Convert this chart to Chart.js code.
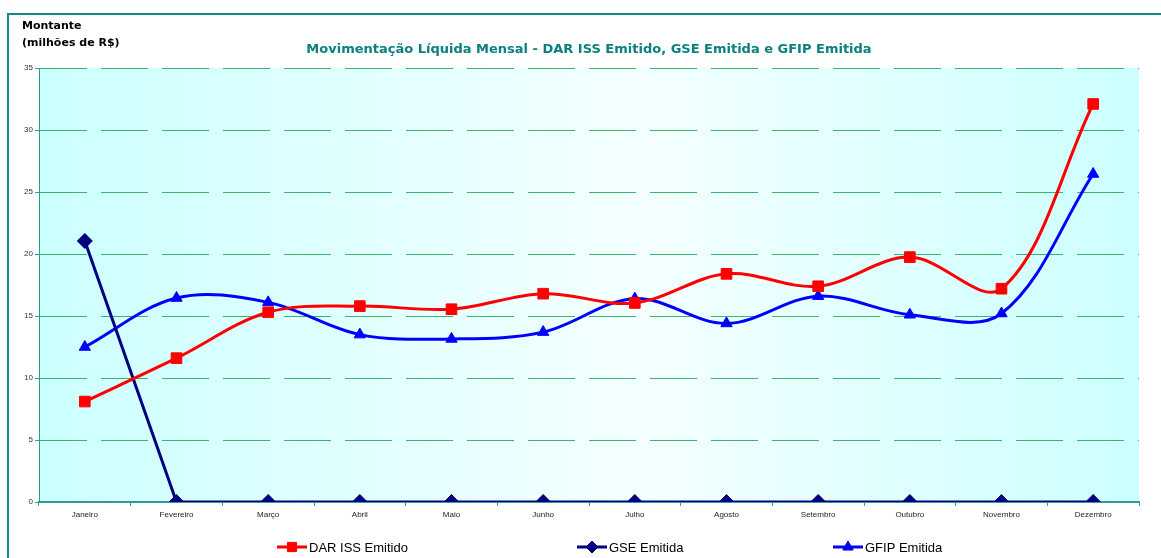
<!DOCTYPE html>
<html>
<head>
<meta charset="utf-8">
<script src="https://cdn.jsdelivr.net/npm/chart.js@4.4.0/dist/chart.umd.min.js"></script>
<style>
html, body { margin: 0; padding: 0; background: #fff; }
#wrap { position: relative; width: 1161px; height: 558px; overflow: hidden; }
#frame { position: absolute; left: 7px; top: 13px; width: 1300px; height: 700px;
  border-left: 2px solid #168a86; border-top: 2px solid #168a86; }
#ytitle { position: absolute; left: 22px; top: 17px; font: bold 11px "DejaVu Sans";
  line-height: 17px; color: #000; }
canvas { position: absolute; left: 0; top: 0; }
</style>
</head>
<body>
<div id="wrap">
  <div id="frame"></div>
  <canvas id="chart" width="1161" height="558"></canvas>
  <div id="ytitle">Montante<br>(milhões de R$)</div>
</div>
<script>
// valores (milhões de R$)
const months = ['Janeiro', 'Fevereiro', 'Março', 'Abril', 'Maio', 'Junho',
  'Julho', 'Agosto', 'Setembro', 'Outubro', 'Novembro', 'Dezembro']
const darIss = [8.1, 11.6, 15.3, 15.8, 15.55, 16.8, 16.05, 18.4, 17.4, 19.75, 17.2, 32.1]
const gse = [21.05, 0, 0, 0, 0, 0, 0, 0, 0, 0, 0, 0]
const gfip = [12.5, 16.45, 16.1, 13.5, 13.15, 13.7, 16.4, 14.4, 16.6, 15.1, 15.2, 26.45]
const yMax = 35
const yStep = 5

const seriesNames = ['DAR ISS Emitido', 'GSE Emitida', 'GFIP Emitida']
const seriesColors = ['#ff0000', '#000080', '#0000ff']
const seriesMarkers = ['rect', 'rectRot', 'triangle']
const markerSize = [7.5, 7.5, 6.5]

// fundo em degradê da área do gráfico
const plotBg = {
  id: 'plotBg',
  beforeDraw(chart) {
    const { ctx, chartArea: a } = chart
    const g = ctx.createLinearGradient(a.left, 0, a.right, 0)
    g.addColorStop(0, '#ccffff')
    g.addColorStop(0.55, '#f4ffff')
    g.addColorStop(1, '#ccffff')
    ctx.save()
    ctx.fillStyle = g
    ctx.fillRect(a.left, a.top, a.right - a.left, a.bottom - a.top)
    ctx.restore()
  }
}

// legenda no estilo do Excel: linha + marcador + texto
const legendX = [277, 577, 833]
const bottomLegend = {
  id: 'bottomLegend',
  afterDraw(chart) {
    const ctx = chart.ctx
    const y = 547
    ctx.save()
    seriesNames.forEach((name, i) => {
      const x = legendX[i]
      ctx.strokeStyle = seriesColors[i]
      ctx.fillStyle = seriesColors[i]
      ctx.lineWidth = 3
      ctx.beginPath()
      ctx.moveTo(x, y)
      ctx.lineTo(x + 30, y)
      ctx.stroke()
      ctx.lineWidth = 1
      Chart.helpers.drawPoint(ctx, {
        pointStyle: seriesMarkers[i], radius: i == 0 ? 6.5 : 6, borderWidth: 1, rotation: 0
      }, x + 15, y)
      ctx.fillStyle = '#000'
      ctx.font = '13px "Liberation Sans", Arial'
      ctx.textBaseline = 'middle'
      ctx.fillText(name, x + 32, y + 1)
    })
    ctx.restore()
  }
}

function makeSet(i, data, tension) {
  return {
    label: seriesNames[i],
    data: data,
    borderColor: seriesColors[i],
    backgroundColor: seriesColors[i],
    borderWidth: 3,
    tension: tension,
    pointStyle: seriesMarkers[i],
    pointRadius: markerSize[i],
    pointBorderWidth: 1,
    pointHoverRadius: markerSize[i],
    fill: false
  }
}

new Chart(document.getElementById('chart'), {
  type: 'line',
  data: {
    labels: months,
    datasets: [
      makeSet(0, darIss, 0.35),
      makeSet(1, gse, 0),
      makeSet(2, gfip, 0.35)
    ]
  },
  options: {
    responsive: false,
    animation: false,
    layout: { padding: { left: 0, right: 22, top: 42.2, bottom: 0 } },
    plugins: {
      legend: { display: false },
      tooltip: { enabled: false },
      title: {
        display: true,
        fullSize: false,
        text: 'Movimentação Líquida Mensal - DAR ISS Emitido, GSE Emitida e GFIP Emitida',
        color: '#0a8080',
        font: { family: 'DejaVu Sans', size: 13, weight: 'bold' },
        padding: { top: 0, bottom: 10.2 }
      }
    },
    scales: {
      x: {
        offset: true,
        afterFit: s => { s.height = 56 },
        grid: { drawOnChartArea: false, drawTicks: true, tickLength: 4, color: '#339999', offset: true },
        border: { color: '#339999', width: 2 },
        ticks: {
          color: '#222', padding: 4, maxRotation: 0, autoSkip: false,
          font: { family: 'Liberation Sans', size: 8 }
        }
      },
      y: {
        min: 0,
        max: yMax,
        afterFit: s => { s.width = 39 },
        grid: {
          color: '#3cb371', lineWidth: 1,
          tickLength: 4, tickColor: '#339999', tickBorderDash: []
        },
        border: { color: '#2e9a88', width: 1, dash: [47, 14] },
        ticks: {
          stepSize: yStep, color: '#333', padding: 2,
          font: { family: 'Liberation Sans', size: 8 }
        }
      }
    }
  },
  plugins: [plotBg, bottomLegend]
})
</script>
</body>
</html>
